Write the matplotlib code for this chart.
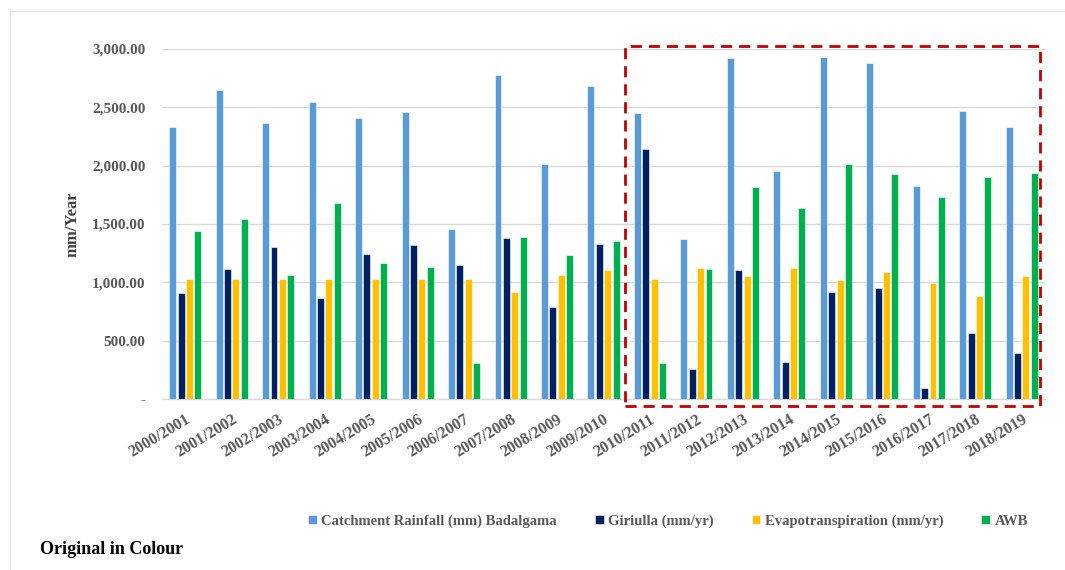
import matplotlib.pyplot as plt
from matplotlib.patches import Rectangle
from matplotlib.ticker import FuncFormatter
import numpy as np

# data (mm/yr)
years = ["2000/2001", "2001/2002", "2002/2003", "2003/2004", "2004/2005",
         "2005/2006", "2006/2007", "2007/2008", "2008/2009", "2009/2010",
         "2010/2011", "2011/2012", "2012/2013", "2013/2014", "2014/2015",
         "2015/2016", "2016/2017", "2017/2018", "2018/2019"]
rainfall = [2335, 2646, 2363, 2549, 2406, 2457, 1460, 2774, 2017, 2680,
            2454, 1369, 2920, 1951, 2929, 2880, 1829, 2469, 2329]
giriulla = [906, 1111, 1300, 869, 1243, 1320, 1151, 1383, 786, 1326,
            2146, 254, 1103, 317, 917, 954, 97, 563, 397]
evapo = [1026, 1026, 1026, 1026, 1026, 1026, 1026, 917, 1066, 1103,
         1029, 1120, 1057, 1120, 1023, 1086, 994, 883, 1057]
awb = [1440, 1540, 1066, 1677, 1163, 1129, 306, 1389, 1234, 1354,
       311, 1114, 1820, 1634, 2011, 1926, 1729, 1906, 1934]

labels = ["Catchment Rainfall (mm) Badalgama", "Giriulla (mm/yr)",
          "Evapotranspiration (mm/yr)", "AWB"]
colors = ["#5B9BD5", "#002060", "#FFC000", "#00B050"]

plt.rcParams['font.family'] = ['Liberation Serif', 'DejaVu Serif']
plt.rcParams['font.weight'] = 'bold'

fig = plt.figure(figsize=(10.65, 5.7), dpi=100)
ax = fig.add_axes([162 / 1065, 1 - 399 / 570, 883 / 1065, 350 / 570])

x = np.arange(len(years))
step = 0.18
for i, (series, c, lab) in enumerate(zip([rainfall, giriulla, evapo, awb], colors, labels)):
    ax.bar(x + (i - 1.5) * step, series, width=0.15, color=c, label=lab,
           edgecolor='white', linewidth=0.4, zorder=3)

ax.set_xlim(-0.5, len(years) - 0.5)
ax.set_ylim(0, 3000)
ax.set_yticks(np.arange(0, 3001, 500))
ax.yaxis.set_major_formatter(FuncFormatter(lambda v, p: "-" if v == 0 else f"{v:,.2f}"))
ax.grid(axis='y', color='#D9D9D9', linewidth=1, zorder=0)
for s in ['top', 'right', 'left']:
    ax.spines[s].set_visible(False)
ax.spines['bottom'].set_color('#D9D9D9')
ax.spines['bottom'].set_linewidth(1)
ax.tick_params(length=0, colors='#595959', labelsize=11)
ax.tick_params(axis='y', pad=12)
ax.tick_params(axis='x', pad=9)
ax.set_xticks(x)
ax.set_xticklabels(years, rotation=31, ha='right', rotation_mode='anchor',
                   fontsize=11.5, fontweight='bold', color='#595959')
for t in ax.get_yticklabels():
    t.set_fontweight('bold')
ax.set_ylabel("mm/Year", fontsize=12, fontweight='bold', color='#404040', labelpad=8)

# red dashed highlight box around 2010/2011 - 2018/2019
ax.add_patch(Rectangle((9.46, -0.019), 8.93, 1.028,
                       transform=ax.get_xaxis_transform(), fill=False,
                       edgecolor='#C00000', linestyle=(0, (4, 2.5)), linewidth=2,
                       clip_on=False, zorder=5))

# thin light grey chart border (top / left)
fig.add_artist(Rectangle((10 / 1065, -0.1), 1.2, 1 - 11 / 570 + 0.1,
                         transform=fig.transFigure, fill=False,
                         edgecolor='#E6E6E6', linewidth=1))

leg = fig.legend(loc='center', bbox_to_anchor=(668 / 1065, 1 - 521 / 570), ncol=4,
                 frameon=False, fontsize=10.5, handlelength=0.6, handleheight=0.6,
                 handletextpad=0.3, columnspacing=2.6)
for t in leg.get_texts():
    t.set_color('#595959')

fig.text(40 / 1065, 1 - 549 / 570, "Original in Colour", fontsize=13,
         fontweight='bold', color='black', va='center', ha='left')

fig.savefig("out.png", dpi=100)
